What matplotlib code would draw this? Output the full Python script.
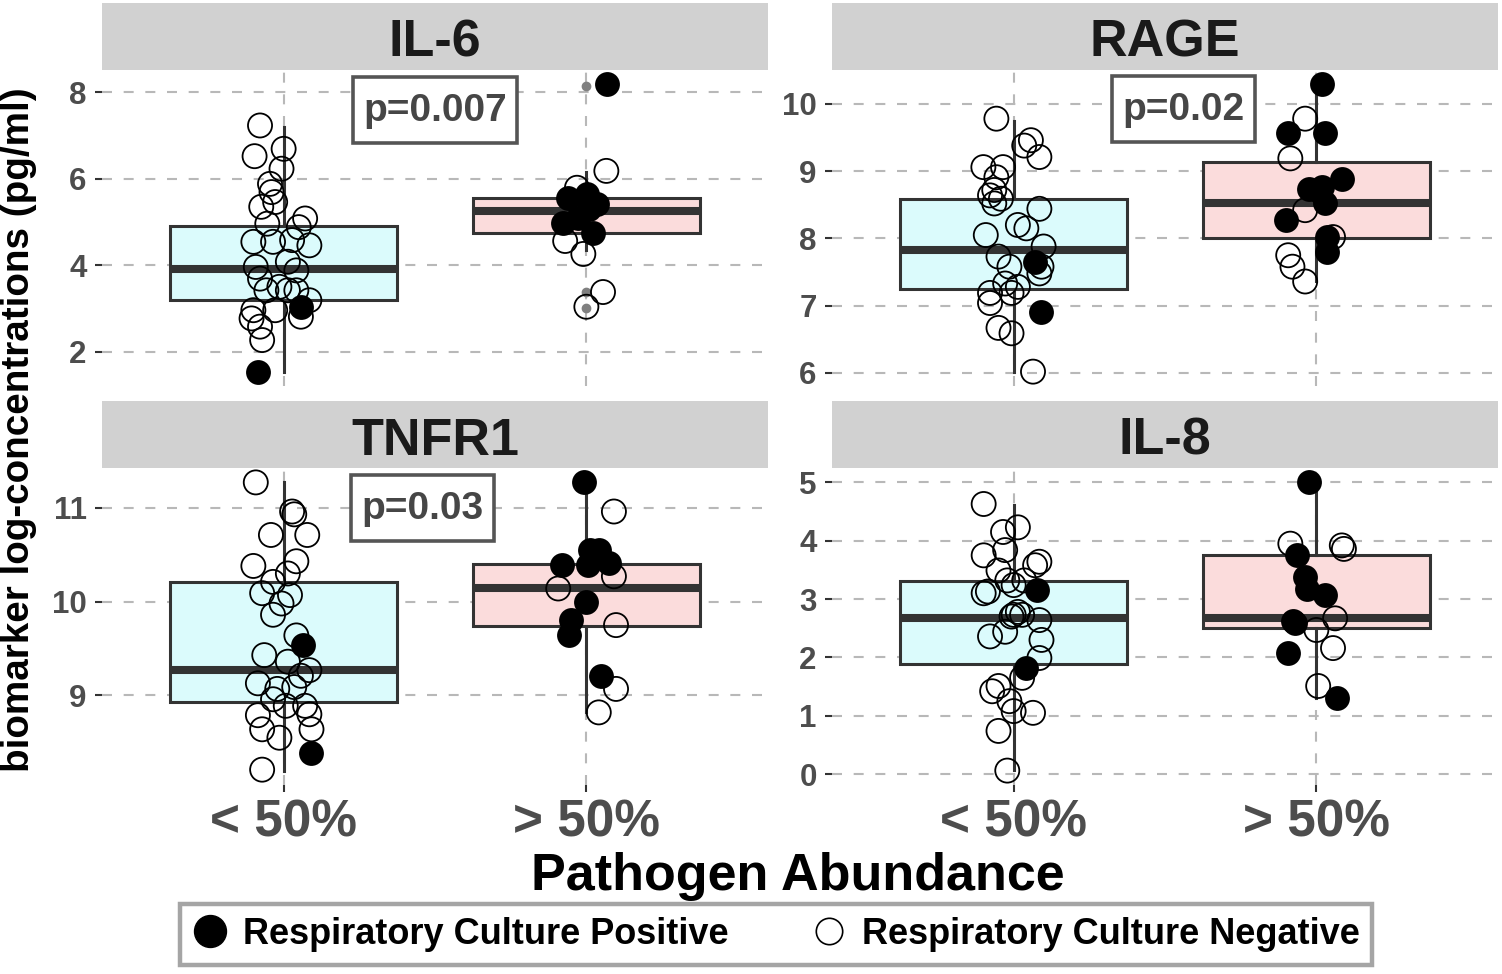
import numpy as np
import matplotlib
matplotlib.use("Agg")
import matplotlib.pyplot as plt
from matplotlib.lines import Line2D
from matplotlib.patches import Rectangle

plt.rcParams['font.family'] = ['Liberation Sans', 'DejaVu Sans']
plt.rcParams['font.weight'] = 'bold'

# ---------------- data ----------------
PANELS = ["IL-6", "RAGE", "TNFR1", "IL-8"]
GROUPS = ["< 50%", "> 50%"]
LEGEND_LABELS = ["Respiratory Culture Positive", "Respiratory Culture Negative"]
P_LABELS = {"IL-6": "p=0.007", "RAGE": "p=0.02", "TNFR1": "p=0.03"}
P_POS = {"IL-6": (1.50, 7.56), "RAGE": (1.56, 9.91), "TNFR1": (1.46, 10.99)}
Y_TICKS = {"IL-6": [2, 4, 6, 8], "RAGE": [6, 7, 8, 9, 10],
           "TNFR1": [9, 10, 11], "IL-8": [0, 1, 2, 3, 4, 5]}

# IL-6
il6_low_y = [7.23, 6.69, 6.52, 6.23, 5.88, 5.69, 5.46, 5.35, 4.96, 5.08, 4.88, 4.54, 4.54, 4.58, 4.46, 3.96,
             4.08, 3.88, 3.69, 3.50, 3.42, 3.42, 3.42, 3.19, 3.04, 2.96, 2.96, 2.81, 2.77, 2.58, 2.27, 1.54]
il6_low_jit = [-0.078, 0.0, -0.096, -0.007, -0.045, -0.04, -0.028, -0.074, -0.054, 0.071, 0.05, -0.1, -0.035,
               0.028, 0.085, -0.092, 0.014, 0.042, -0.078, -0.014, -0.057, 0.014, 0.042, 0.085, 0.057, -0.1,
               -0.028, 0.057, -0.106, -0.078, -0.071, -0.085]
il6_low_pos = [0] * 24 + [1] + [0] * 6 + [1]
il6_high_y = [8.18, 6.18, 5.79, 5.64, 5.56, 5.41, 5.30, 5.10, 4.98, 4.75, 4.56, 4.26, 3.38, 3.04]
il6_high_jit = [0.069, 0.066, -0.031, 0.002, -0.06, 0.035, 0.01, -0.026, -0.076, 0.023, -0.07, -0.01, 0.055, 0.0]
il6_high_pos = [1, 0, 0, 1, 1, 1, 1, 1, 1, 1, 0, 0, 0, 0]
il6_box_low = [1.54, 3.19, 3.92, 4.90, 7.19]     # whislo, q1, median, q3, whishi
il6_box_high = [4.35, 4.74, 5.25, 5.56, 6.15]
il6_out_low = []
il6_out_high = [8.15, 3.38, 3.02]

# RAGE
rage_low_y = [9.78, 9.46, 9.38, 9.21, 9.06, 9.06, 8.91, 8.72, 8.64, 8.59, 8.52, 8.44, 8.20, 8.15, 8.05, 7.88,
              7.73, 7.65, 7.58, 7.58, 7.48, 7.33, 7.28, 7.19, 7.19, 7.04, 6.91, 6.67, 6.59, 6.02]
rage_low_jit = [-0.057, 0.057, 0.035, 0.085, -0.1, -0.035, -0.057, -0.064, -0.078, -0.042, -0.064, 0.085, 0.014,
                0.042, -0.092, 0.099, -0.05, 0.071, 0.092, -0.014, 0.085, -0.028, 0.014, -0.078, -0.007, -0.078,
                0.092, -0.05, -0.007, 0.064]
rage_low_pos = [0] * 17 + [1] + [0] * 8 + [1] + [0] * 3
rage_high_y = [10.29, 9.78, 9.56, 9.56, 9.19, 8.89, 8.74, 8.77, 8.52, 8.42, 8.27, 8.02, 8.02, 7.80, 7.75, 7.58, 7.36]
rage_high_jit = [0.02, -0.037, -0.093, 0.027, -0.086, 0.084, -0.023, 0.02, 0.027, -0.037, -0.1, 0.055, 0.034,
                 0.034, -0.093, -0.079, -0.037]
rage_high_pos = [1, 0, 1, 1, 0, 1, 1, 1, 1, 0, 1, 0, 1, 1, 0, 0, 0]
rage_box_low = [6.02, 7.25, 7.83, 8.59, 9.75]
rage_box_high = [7.36, 8.01, 8.52, 9.14, 10.29]
rage_out_low = []
rage_out_high = []

# TNFR1
tnfr1_low_y = [11.27, 10.96, 10.93, 10.71, 10.71, 10.43, 10.38, 10.30, 10.21, 10.09, 10.07, 9.98, 9.86, 9.64,
               9.54, 9.43, 9.36, 9.27, 9.21, 9.13, 9.07, 9.09, 8.96, 8.89, 8.79, 8.80, 8.64, 8.55, 8.64, 8.39,
               8.21, 8.89]
tnfr1_low_jit = [-0.092, 0.028, 0.035, -0.042, 0.078, 0.042, -0.1, 0.014, -0.035, -0.071, 0.021, -0.007, -0.035,
                 0.042, 0.064, -0.064, 0.014, 0.085, 0.057, -0.085, -0.021, 0.035, -0.035, 0.071, -0.085, 0.085,
                 -0.071, -0.014, 0.092, 0.092, -0.071, 0.007]
tnfr1_low_pos = [0] * 14 + [1] + [0] * 14 + [1] + [0] * 2
tnfr1_high_y = [11.27, 10.96, 10.55, 10.55, 10.39, 10.41, 10.39, 10.27, 10.14, 10.00, 9.80, 9.64, 9.75, 9.21,
                9.07, 8.82]
tnfr1_high_jit = [-0.008, 0.091, 0.013, 0.041, -0.079, 0.076, 0.006, 0.091, -0.093, 0.0, -0.051, -0.058, 0.098,
                  0.048, 0.098, 0.041]
tnfr1_high_pos = [1, 0, 1, 1, 1, 1, 1, 0, 0, 1, 1, 1, 0, 1, 0, 0]
tnfr1_box_low = [8.20, 8.93, 9.27, 10.21, 11.27]
tnfr1_box_high = [8.82, 9.74, 10.14, 10.40, 11.27]
tnfr1_out_low = []
tnfr1_out_high = []

# IL-8
il8_low_y = [4.63, 4.23, 4.15, 3.84, 3.75, 3.64, 3.58, 3.49, 3.32, 3.13, 3.10, 3.15, 3.24, 3.32, 2.73, 2.73,
             2.64, 2.36, 2.44, 2.30, 1.99, 1.82, 1.65, 1.51, 1.42, 1.25, 1.05, 1.08, 0.74, 0.06, 2.78, 2.70]
il8_low_jit = [-0.099, 0.014, -0.035, -0.028, -0.099, 0.085, 0.071, -0.05, -0.021, -0.085, -0.099, 0.078, 0.0,
               0.035, 0.0, 0.028, 0.085, -0.078, -0.028, 0.092, 0.085, 0.042, 0.028, -0.05, -0.071, -0.014, 0.064,
               0.0, -0.05, -0.021, 0.014, -0.007]
il8_low_pos = [0] * 11 + [1] + [0] * 9 + [1] + [0] * 10
il8_high_y = [5.0, 3.95, 3.92, 3.86, 3.75, 3.38, 3.18, 3.07, 2.67, 2.59, 2.47, 2.16, 2.07, 1.51, 1.31, 2.62]
il8_high_jit = [-0.023, -0.086, 0.084, 0.091, -0.065, -0.037, -0.03, 0.027, 0.062, -0.072, 0.0, 0.055, -0.093,
                0.006, 0.069, -0.078]
il8_high_pos = [1, 0, 0, 0, 1, 1, 1, 1, 0, 1, 0, 0, 1, 0, 1, 1]
il8_box_low = [0.07, 1.88, 2.68, 3.31, 4.61]
il8_box_high = [1.31, 2.51, 2.68, 3.75, 5.00]
il8_out_low = []
il8_out_high = []

DATA = {
    "IL-6": [(il6_low_y, il6_low_jit, il6_low_pos, il6_box_low, il6_out_low),
             (il6_high_y, il6_high_jit, il6_high_pos, il6_box_high, il6_out_high)],
    "RAGE": [(rage_low_y, rage_low_jit, rage_low_pos, rage_box_low, rage_out_low),
             (rage_high_y, rage_high_jit, rage_high_pos, rage_box_high, rage_out_high)],
    "TNFR1": [(tnfr1_low_y, tnfr1_low_jit, tnfr1_low_pos, tnfr1_box_low, tnfr1_out_low),
              (tnfr1_high_y, tnfr1_high_jit, tnfr1_high_pos, tnfr1_box_high, tnfr1_out_high)],
    "IL-8": [(il8_low_y, il8_low_jit, il8_low_pos, il8_box_low, il8_out_low),
             (il8_high_y, il8_high_jit, il8_high_pos, il8_box_high, il8_out_high)],
}

# ---------------- styling / layout ----------------
W, H = 1502, 974
fig = plt.figure(figsize=(W / 100, H / 100), dpi=100)
BOX_COLORS = ["#DBFBFC", "#FBDCDC"]
EDGE = "#333333"
GRID_C = "#b8b8b8"
PW = 666
# (left px, top px of panel, bottom px of panel, strip top px)
LAYOUT = {"IL-6": (102, 70, 386, 3), "RAGE": (832, 70, 386, 3),
          "TNFR1": (102, 468, 785, 401), "IL-8": (832, 468, 785, 401)}
BOTTOM_ROW = {"TNFR1", "IL-8"}

p_texts = []
for name in PANELS:
    x0, ytop, ybot, stop = LAYOUT[name]
    ax = fig.add_axes([x0 / W, 1 - ybot / H, PW / W, (ybot - ytop) / H])
    st = fig.add_axes([x0 / W, 1 - ytop / H, PW / W, (ytop - stop) / H])
    st.set_facecolor("#D1D1D1")
    st.set_xticks([]); st.set_yticks([])
    for s in st.spines.values():
        s.set_visible(False)
    st.text(0.5, 0.2, name, ha="center", va="baseline", fontsize=37.5,
            fontweight="bold", color="#1a1a1a", transform=st.transAxes)

    allv = []
    for gi, (yv, jit, pos, box, outs) in enumerate(DATA[name]):
        xc = gi + 1
        stats = [dict(whislo=box[0], q1=box[1], med=box[2], q3=box[3], whishi=box[4],
                      fliers=np.array(outs))]
        ax.bxp(stats, positions=[xc], widths=0.75, patch_artist=True, showcaps=False,
               boxprops=dict(facecolor=BOX_COLORS[gi], edgecolor=EDGE, linewidth=2.2),
               medianprops=dict(color=EDGE, linewidth=5.8, solid_capstyle="butt"),
               whiskerprops=dict(color=EDGE, linewidth=2.2),
               flierprops=dict(marker="o", markerfacecolor="#808080", markeredgecolor="#808080",
                               markersize=6),
               zorder=2)
        yv = np.array(yv); jit = np.array(jit); pos = np.array(pos)
        xs = xc + jit
        neg = pos == 0
        ax.scatter(xs[neg], yv[neg], s=300, facecolors="none", edgecolors="black",
                   linewidths=1.3, zorder=3)
        ax.scatter(xs[~neg], yv[~neg], s=320, c="black", linewidths=0, zorder=4)
        allv += list(yv) + list(box) + list(outs)

    lo, hi = min(allv), max(allv)
    pad = 0.05 * (hi - lo)
    ax.set_ylim(lo - pad, hi + pad)
    ax.set_xlim(0.4, 2.6)
    ax.set_yticks(Y_TICKS[name])
    ax.set_xticks([1, 2])
    ax.grid(True, color=GRID_C, linewidth=1.5, linestyle=(0, (4.8, 5.6)), zorder=0)
    ax.set_axisbelow(True)
    for s in ax.spines.values():
        s.set_visible(False)
    ax.tick_params(axis="y", length=5, width=1.5, color=EDGE, labelsize=22.5,
                   labelcolor="#4d4d4d", pad=6)
    for lab in ax.get_yticklabels():
        lab.set_fontweight("bold")
    if name in BOTTOM_ROW:
        ax.set_xticklabels(GROUPS)
        ax.tick_params(axis="x", length=5, width=1.5, color=EDGE, labelsize=37,
                       labelcolor="#4d4d4d", pad=4.5)
        for lab in ax.get_xticklabels():
            lab.set_fontweight("bold")
    else:
        ax.tick_params(axis="x", length=0, labelbottom=False)

    if name in P_LABELS:
        px, py = P_POS[name]
        t = ax.text(px, py, P_LABELS[name], ha="center", va="center", fontsize=28,
                    fontweight="bold", color="#464646", zorder=7)
        p_texts.append((ax, t))

fig.text(798 / W, 1 - 890 / H, "Pathogen Abundance", ha="center", va="baseline",
         fontsize=37.5, fontweight="bold", color="black")
fig.text(19 / W, 1 - 430 / H, "biomarker log-concentrations (pg/ml)", ha="center", va="center",
         rotation=90, fontsize=27.8, fontweight="bold", color="black")

handles = [Line2D([], [], marker="o", linestyle="", color="black", markersize=23),
           Line2D([], [], marker="o", linestyle="", markerfacecolor="none", markeredgecolor="black",
                  markeredgewidth=1.2, markersize=19)]
leg = fig.legend(handles, LEGEND_LABELS, loc="center", bbox_to_anchor=(776 / W, 1 - 934.5 / H),
                 ncol=2, frameon=True, fancybox=False, handlelength=1.0,
                 handletextpad=0.4, columnspacing=2.3, borderpad=0.35,
                 prop=dict(weight="bold", size=26))
leg.get_frame().set_edgecolor("#8f8f8f")
leg.get_frame().set_linewidth(3.2)

# label boxes around p-values (padding in pixels, like ggplot's label)
fig.canvas.draw()
for ax, t in p_texts:
    bb = t.get_window_extent()
    cx, cy = (bb.x0 + bb.x1) / 2, (bb.y0 + bb.y1) / 2
    wpx = bb.width + 21
    hpx = 66
    rect = Rectangle((cx - wpx / 2, cy - hpx / 2 + 1), wpx, hpx, transform=None,
                     facecolor="white", edgecolor="#555555", linewidth=2.6, zorder=6)
    ax.add_artist(rect)

fig.savefig("out.png", dpi=100)
